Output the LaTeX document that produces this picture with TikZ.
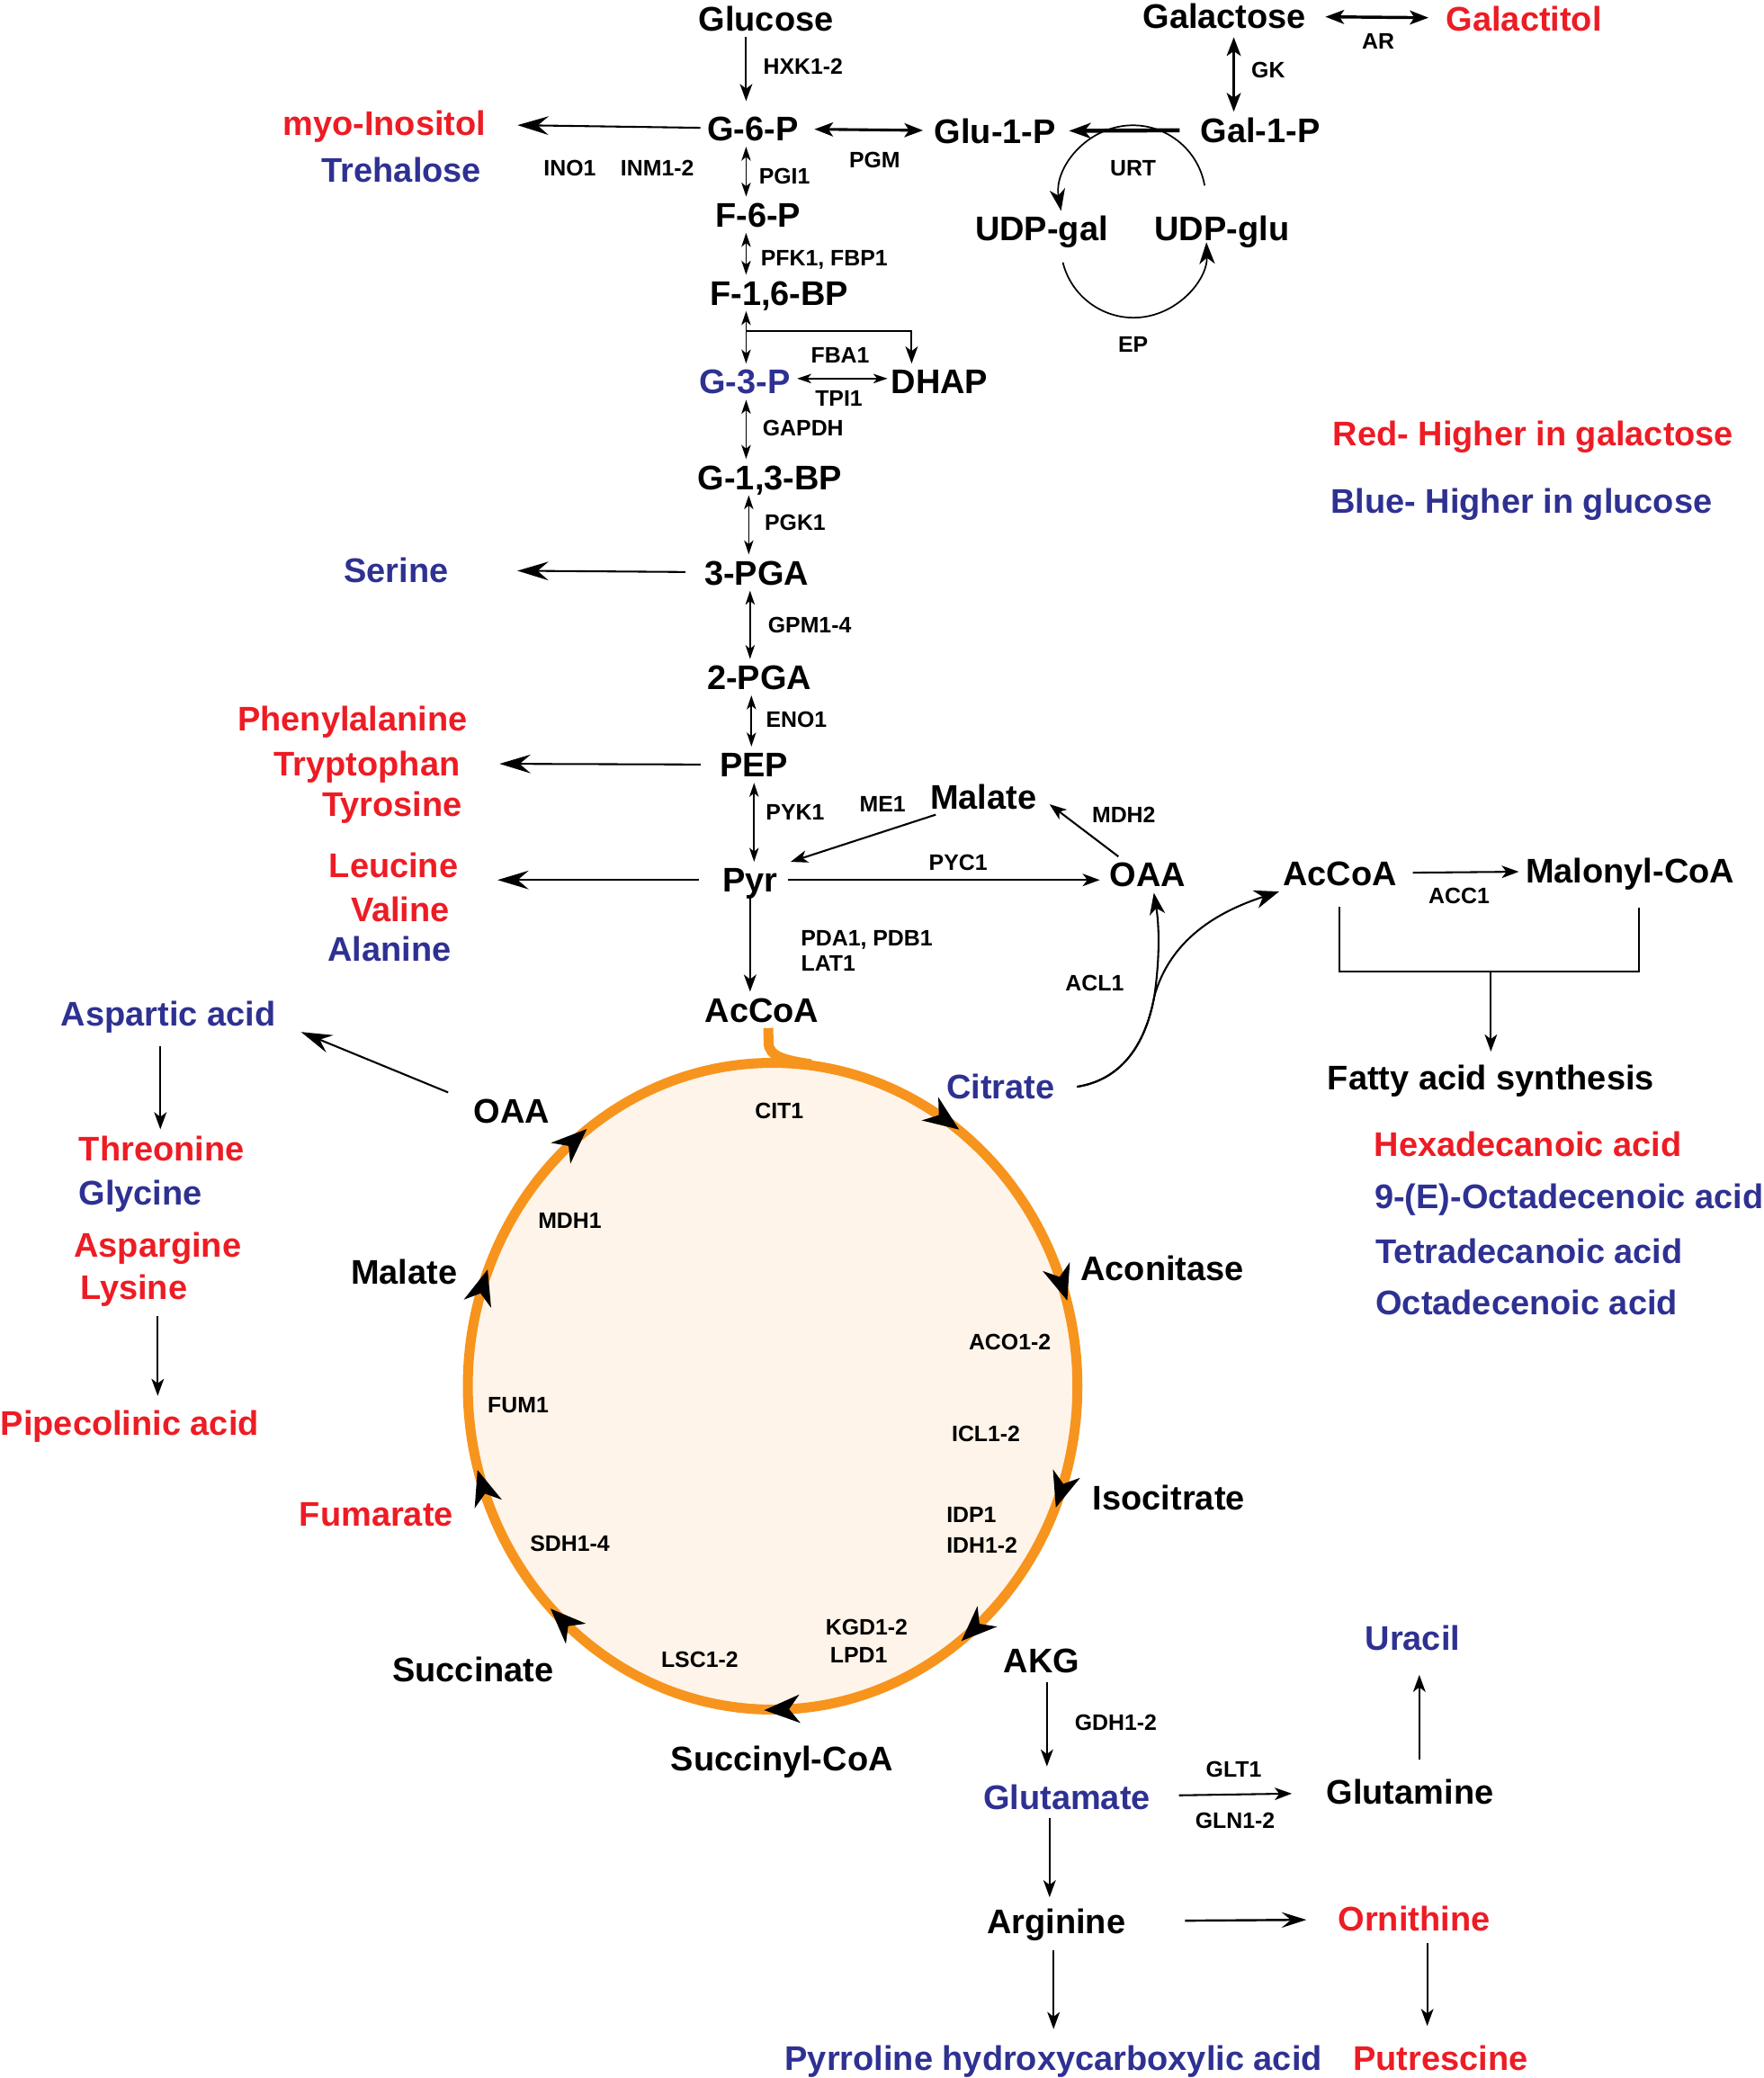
\documentclass[tikz,border=0pt]{standalone}
\usepackage{fontspec}
\setmainfont{Liberation Sans}
\usetikzlibrary{arrows.meta,decorations.markings}

\definecolor{galred}{RGB}{237,28,36}
\definecolor{glcblue}{RGB}{46,49,146}
\definecolor{tcaorange}{RGB}{247,148,29}
\definecolor{tcafill}{RGB}{254,244,233}

\newcommand{\metfont}{\fontsize{11}{13}\selectfont\bfseries}
\newcommand{\enzfont}{\fontsize{7.2}{8.6}\selectfont\bfseries}
\newcommand{\ringtip}{\fill[black] (6.5pt,0) -- (-5pt,4.6pt) -- (-1.5pt,0) -- (-5pt,-4.6pt) -- cycle;}

\tikzset{
  met/.style={font=\metfont, inner sep=1pt, text height=8.6pt, text depth=0.7pt},
  enz/.style={font=\enzfont, inner sep=1pt},
  hig/.style={text=galred},
  hic/.style={text=glcblue},
  arr/.style={->, >={Stealth[length=5.5pt,width=4pt,inset=1.5pt]}, line width=0.6pt},
  dbl/.style={<->, >={Stealth[length=4.5pt,width=3pt,inset=1.2pt]}, line width=0.5pt},
  thk/.style={<->, >={Stealth[length=6pt,width=4.5pt,inset=1.5pt]}, line width=1pt},
  big/.style={->, >={Stealth[length=10pt,width=6pt,inset=3.5pt]}, line width=0.6pt},
  ring/.style={draw=tcaorange, line width=3.2pt, fill=tcafill},
}

\begin{document}
\begin{tikzpicture}[x=0.15mm, y=-0.15mm]
\useasboundingbox (0,0) rectangle (1331,1568);

% TCA ring (drawn first, enzyme names sit on top)
\draw[ring, postaction={decorate}, decoration={markings,
    mark=at position 0.0525 with {\ringtip},
    mark=at position 0.136 with {\ringtip},
    mark=at position 0.244 with {\ringtip},
    mark=at position 0.367 with {\ringtip},
    mark=at position 0.447 with {\ringtip},
    mark=at position 0.55 with {\ringtip},
    mark=at position 0.638 with {\ringtip},
    mark=at position 0.842 with {\ringtip},
    mark=at position 0.946 with {\ringtip}}]
  (583,1046) ellipse [x radius=230, y radius=244];

% glycolysis column
\foreach \n/\t/\x/\y in {glc/Glucose/578/14, g6p/G-6-P/568/97, f6p/F-6-P/572/162,
    f16bp/{F-1,6-BP}/588/221, g13bp/{G-1,3-BP}/581/360, pga3/3-PGA/571/432,
    pga2/2-PGA/573/511, pep/PEP/569/577, pyr/Pyr/566/664} {
  \node[met] (\n) at (\x,\y) {\t};
}
\node[met, hic] (g3p) at (562,288) {G-3-P};
\node[met] (dhap) at (709,288) {DHAP};

% galactose
\node[met] (gal) at (924,12) {Galactose};
\node[met, hig] (galol) at (1150,14) {Galactitol};
\node[met] (gal1p) at (951,98) {Gal-1-P};
\node[met] (glu1p) at (751,99) {Glu-1-P};
\node[met] (udpgal) at (786,172) {UDP-gal};
\node[met] (udpglu) at (922,172) {UDP-glu};

% side products
\node[met, hig] (ino) at (290,93) {myo-Inositol};
\node[met, hic] (tre) at (303,128) {Trehalose};
\node[met, hic] (ser) at (299,430) {Serine};
\node[met, hig] (phe) at (266,542) {Phenylalanine};
\node[met, hig] (trp) at (277,576) {Tryptophan};
\node[met, hig] (tyr) at (296,607) {Tyrosine};
\node[met, hig] (leu) at (297,653) {Leucine};
\node[met, hig] (val) at (302,686) {Valine};
\node[met, hic] (ala) at (294,716) {Alanine};

\node[met] (mal) at (742,601) {Malate};
\node[met] (oaa) at (866,660) {OAA};
\node[met] (accoa) at (575,762) {AcCoA};

% fatty acids
\node[met] (accf) at (1011,659) {AcCoA};
\node[met] (mcoa) at (1230,657) {Malonyl-CoA};
\node[met] (fas) at (1125,813) {Fatty acid synthesis};
\foreach \n/\t/\c/\x/\y in {fa1/{Hexadecanoic acid}/hig/1153/863,
    fa2/{9-(E)-Octadecenoic acid}/hic/1184/903,
    fa3/{Tetradecanoic acid}/hic/1154/944, fa4/{Octadecenoic acid}/hic/1152/983} {
  \node[met, \c] (\n) at (\x,\y) {\t};
}

\node[met, hig] (keyr) at (1157,327) {Red- Higher in galactose};
\node[met, hic] (keyb) at (1148,378) {Blue- Higher in glucose};

% TCA cycle
\node[met] (oaat) at (386,838) {OAA};
\node[met] (malt) at (305,960) {Malate};
\node[met, hig] (fum) at (284,1142) {Fumarate};
\node[met] (suc) at (357,1260) {Succinate};
\node[met] (sucoa) at (590,1327) {Succinyl-CoA};
\node[met] (akg) at (786,1253) {AKG};
\node[met] (icit) at (882,1130) {Isocitrate};
\node[met] (acon) at (877,957) {Aconitase};
\node[met, hic] (cit) at (755,820) {Citrate};

% amino acids from OAA
\node[met, hic] (asp) at (127,765) {Aspartic acid};
\node[met, hig] (thr) at (122,867) {Threonine};
\node[met, hic] (gly) at (106,900) {Glycine};
\node[met, hig] (asn) at (119,939) {Aspargine};
\node[met, hig] (lys) at (101,971) {Lysine};
\node[met, hig] (pip) at (98,1074) {Pipecolinic acid};

% glutamate branch
\node[met, hic] (glut) at (805,1356) {Glutamate};
\node[met] (gln) at (1064,1352) {Glutamine};
\node[met, hic] (ura) at (1066,1236) {Uracil};
\node[met] (arg) at (797,1450) {Arginine};
\node[met, hig] (orn) at (1067,1448) {Ornithine};
\node[met, hic] (p5c) at (795,1553) {Pyrroline hydroxycarboxylic acid};
\node[met, hig] (put) at (1087,1553) {Putrescine};

% enzymes
\foreach \n/\t/\x/\y in {hxk/HXK1-2/606/50, pgm/PGM/660/121, ar/AR/1040/31, gk/GK/957/53,
    urt/URT/855/127, ep/EP/855/260, ino1/INO1/430/127, inm/INM1-2/496/127,
    pgi/PGI1/592/133, pfk/{PFK1, FBP1}/622/196, fba/FBA1/634/268, tpi/TPI1/633/301,
    gapdh/GAPDH/606/323, pgk/PGK1/600/394, gpm/GPM1-4/611/472, eno/ENO1/601/543,
    pyk/PYK1/600/613, me/ME1/666/607, mdhb/MDH2/848/615, pyc/PYC1/723/651,
    pda/{PDA1, PDB1}/654/709, lat/LAT1/625/727, acl/ACL1/826/742, acc/ACC1/1101/676,
    cs/CIT1/588/838, mdha/MDH1/430/921, fumA/FUM1/391/1060, sdh/SDH1-4/430/1165,
    lsc/LSC1-2/528/1252, kgd/KGD1-2/654/1228, lpd/LPD1/648/1249, idp/IDP1/733/1143,
    idh/IDH1-2/741/1166, icl/ICL1-2/744/1082, aco/ACO1-2/762/1013,
    gdh/GDH1-2/842/1300, glt/GLT1/931/1335, glnA/GLN1-2/932/1374} {
  \node[enz] (\n) at (\x,\y) {\t};
}

% connectors: glycolysis
\draw[arr, shorten >=3pt] (glc.south -| 563,0) -- (g6p.north -| 563,0);
\foreach \a/\b/\x in {g6p/f6p/563, f6p/f16bp/563, f16bp/g3p/563, g3p/g13bp/563,
    g13bp/pga3/565, pga3/pga2/566, pga2/pep/567, pep/pyr/569} {
  \draw[dbl] (\a.south -| \x,0) -- (\b.north -| \x,0);
}
\coordinate (fbr) at (563,250);
\draw[arr] (fbr) -| ([xshift=-9pt]dhap.north);
\draw[dbl, line width=0.7pt, shorten <=1pt] ([yshift=1pt]g3p.east) -- ([yshift=1pt]dhap.west);

% galactose
\draw[thk, shorten <=5pt, shorten >=4.5pt] (gal) -- (galol);
\draw[thk, shorten <=1pt] (gal.south -| 931,0) -- (gal1p.north -| 931,0);
\draw[->, >={Stealth[length=7pt,width=5pt,inset=2pt]}, line width=1.3pt,
      shorten <=5.5pt, shorten >=3pt] (gal1p) -- (glu1p);
\draw[thk, line width=0.9pt, shorten <=4pt, shorten >=2.5pt] (g6p) -- (glu1p);
\draw[->, >={Stealth[length=7pt,width=5pt,inset=2pt]}, line width=0.5pt]
  (909,140) arc[start angle=-10, end angle=-190, radius=55];
\draw[->, >={Stealth[length=7pt,width=5pt,inset=2pt]}, line width=0.5pt]
  (802,198) arc[start angle=166, end angle=-2, radius=55];

% side branches
\draw[big, shorten <=1pt, shorten >=9pt] (g6p) -- (ino);
\draw[big, shorten <=5pt, shorten >=21pt] (pga3) -- (ser);
\draw[big, shorten <=5pt, shorten >=11.5pt] (pep) -- (trp);
\draw[big, shorten <=6.5pt, shorten >=11.5pt] (pyr.west) -- (pyr.west -| leu.east);

% pyruvate node
\draw[arr, shorten <=2pt, shorten >=2pt] (pyr.east) -- (pyr.east -| oaa.west);
\draw[arr] ([xshift=3pt]mal.south west) -- ([xshift=3pt]pyr.north east);
\draw[arr] ([xshift=4pt]oaa.north west) -- ([xshift=3pt,yshift=-2.5pt]mal.east);
\draw[arr] (pyr.south) -- (pyr.south |- accoa.north);

% citrate export
\coordinate (aclj) at (871,752);
\draw[->, >={Stealth[length=7pt,width=5pt,inset=2pt]}, line width=0.6pt]
  ([xshift=6pt]cit.east) .. controls (845,815) and (864,790) .. (aclj)
  .. controls (875,725) and (875,700) .. ([xshift=2pt]oaa.south);
\draw[->, >={Stealth[length=8pt,width=6pt,inset=2.5pt]}, line width=0.6pt]
  ([xshift=6pt]cit.east) .. controls (845,815) and (864,790) .. (aclj)
  .. controls (884,705) and (925,686) .. (accf.south west);

% fatty acids
\draw[arr, shorten <=4pt, shorten >=1pt] (accf) -- (mcoa);
\coordinate (fj) at (1125,733);
\draw[line width=0.6pt] ([yshift=-5pt]accf.south) |- (fj) -| ([shift={(7,14)}]mcoa.south);
\draw[arr, shorten >=2.5pt] (fj) -- (fas.north);

% AcCoA into the ring
\draw[draw=tcaorange, line width=3.2pt] ([xshift=2pt]accoa.south) -- (580,787)
  .. controls (580,797) and (592,800) .. (612,803);

% OAA branch
\draw[big] ([xshift=-7pt]oaat.north west) -- ([xshift=7pt]asp.south east);
\draw[arr, shorten <=4.5pt, shorten >=0.5pt] (asp.south -| 121,0) -- (thr.north -| 121,0);
\draw[arr, shorten <=3.5pt, shorten >=3pt] (lys.south -| 119,0) -- (pip.north -| 119,0);

% glutamate branch
\draw[arr, shorten <=1pt, shorten >=4pt] (akg.south -| 790,0) -- (glut.north -| 790,0);
\draw[arr, shorten <=8pt, shorten >=10pt] (glut) -- (gln);
\draw[arr, shorten <=4.5pt, shorten >=6pt] (gln.north -| 1071,0) -- (ura.south -| 1071,0);
\draw[arr, shorten <=1pt, shorten >=2pt] (glut.south -| 792,0) -- (arg.north -| 792,0);
\draw[->, >={Stealth[length=8pt,width=5pt,inset=3pt]}, line width=0.7pt,
      shorten <=18pt, shorten >=9pt] (arg) -- (orn);
\draw[arr, shorten <=3.5pt, shorten >=3.5pt] (arg.south -| 795,0) -- (p5c.north -| 795,0);
\draw[arr, shorten <=2pt, shorten >=4.5pt] (orn.south -| 1077,0) -- (put.north -| 1077,0);

\end{tikzpicture}
\end{document}
